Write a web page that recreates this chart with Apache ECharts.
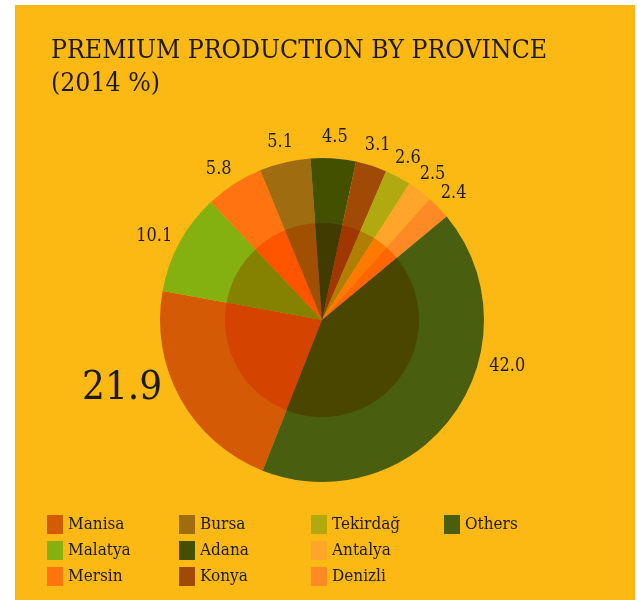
<!DOCTYPE html>
<html>
<head>
<meta charset="utf-8">
<script src="https://cdn.jsdelivr.net/npm/echarts@6/dist/echarts.min.js"></script>
<style>
  html, body { margin: 0; padding: 0; background: #fff; }
  #chart { width: 637px; height: 600px; }
</style>
</head>
<body>
<div id="chart"></div>
<script>
// premium production share by province, 2014 (%)
const provinces = ['Manisa', 'Malatya', 'Mersin', 'Bursa', 'Adana', 'Konya', 'Tekirdağ', 'Antalya', 'Denizli', 'Others']
const shares = [21.9, 10.1, 5.8, 5.1, 4.5, 3.1, 2.6, 2.5, 2.4, 42.0]
const colors = ['#d45a05', '#84b010', '#ff7310', '#a06c10', '#425000', '#a04a05', '#b0aa10', '#ffa52a', '#ff8a25', '#4a5e10']

const FONT = '"DejaVu Serif Condensed", "DejaVu Serif", serif'
const TEXT = '#1d1a12'
const CENTER = [322, 320]
const START = 248.5

// inner disc: same slices, green channel dropped, blue removed
function innerShade(hex) {
  const r = parseInt(hex.slice(1, 3), 16)
  const g = Math.round(parseInt(hex.slice(3, 5), 16) * 0.74)
  return `rgb(${r}, ${g}, 0)`
}

// a few labels sit off the slice middle in the original
const labelTweaks = {
  Manisa: { fontSize: 40, offset: [-40, -20] },
  Malatya: { offset: [-7, 4] },
  Mersin: { offset: [-4, 3] },
  Others: { offset: [37, -61] }
}

const outerData = provinces.map((name, i) => ({
  name,
  value: shares[i],
  itemStyle: { color: colors[i] }
}))

const innerData = provinces.map((name, i) => ({
  name,
  value: shares[i],
  itemStyle: { color: innerShade(colors[i]) }
}))

const labelData = provinces.map((name, i) => ({
  name,
  value: shares[i],
  label: labelTweaks[name] || {}
}))

const legendCols = [
  { left: 47, names: provinces.slice(0, 3) },
  { left: 179, names: provinces.slice(3, 6) },
  { left: 311, names: provinces.slice(6, 9) },
  { left: 444, names: provinces.slice(9) }
]

const chart = echarts.init(document.getElementById('chart'), null, { renderer: 'canvas' })

const option = {
  animation: false,
  backgroundColor: '#ffffff',
  graphic: [
    {
      type: 'rect',
      z: -10,
      shape: { x: 15, y: 5, width: 620, height: 595 },
      style: { fill: '#fdb913' },
      silent: true
    }
  ],
  title: {
    text: 'PREMIUM PRODUCTION BY PROVINCE\n(2014 %)',
    left: 46,
    top: 30,
    textStyle: {
      fontFamily: FONT,
      fontWeight: 'normal',
      fontSize: 26.4,
      lineHeight: 33,
      color: TEXT
    }
  },
  legend: legendCols.map(col => ({
    data: col.names,
    orient: 'vertical',
    left: col.left,
    top: 515,
    padding: 0,
    itemWidth: 16,
    itemHeight: 19,
    itemGap: 7,
    icon: 'rect',
    selectedMode: false,
    textStyle: { fontFamily: FONT, fontSize: 17, color: TEXT }
  })),
  series: [
    {
      name: 'outer',
      type: 'pie',
      center: CENTER,
      radius: [0, 162],
      startAngle: START,
      silent: true,
      data: outerData,
      label: { show: false },
      labelLine: { show: false },
      emphasis: { disabled: true }
    },
    {
      name: 'inner',
      type: 'pie',
      center: CENTER,
      radius: [0, 97],
      startAngle: START,
      silent: true,
      data: innerData,
      label: { show: false },
      labelLine: { show: false },
      emphasis: { disabled: true }
    },
    {
      // transparent ring that only carries the value labels
      name: 'labels',
      type: 'pie',
      center: CENTER,
      radius: [172, 188],
      startAngle: START,
      silent: true,
      avoidLabelOverlap: false,
      data: labelData,
      itemStyle: { color: 'rgba(0,0,0,0)' },
      label: {
        show: true,
        position: 'inside',
        formatter: p => p.value.toFixed(1),
        fontFamily: FONT,
        fontSize: 18,
        color: TEXT
      },
      labelLayout: { hideOverlap: false },
      labelLine: { show: false },
      emphasis: { disabled: true }
    }
  ]
}

chart.setOption(option)
</script>
</body>
</html>
